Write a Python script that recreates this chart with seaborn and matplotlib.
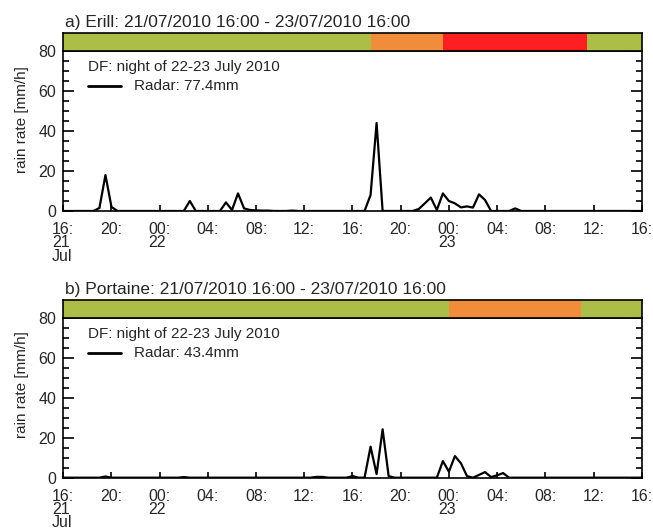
import numpy as np
import pandas as pd
import matplotlib
matplotlib.use("Agg")
import matplotlib.pyplot as plt
import matplotlib.dates as mdates
from matplotlib.ticker import MultipleLocator
import seaborn as sns

# radar rain rate [mm/h], half-hourly from 21/07/2010 16:00 to 23/07/2010 16:00
erill = [
    0, 0, 0, 0, 0, 0, 1.5, 18,
    2, 0, 0, 0, 0, 0, 0, 0,
    0, 0, 0, 0, 0, 5, 0, 0,
    0, 0, 0, 4.3, 0.5, 8.8, 1.3, 0.5,
    0.3, 0.2, 0.2, 0, 0, 0, 0.2, 0,
    0, 0, 0, 0, 0, 0, 0, 0,
    0, 0, 0, 8, 44, 0, 0, 0,
    0, 0, 0, 1, 3.8, 6.7, 0.5, 8.8,
    5, 3.8, 1.8, 2.3, 1.7, 8.3, 5.5, 0,
    0, 0, 0, 1.3, 0, 0, 0, 0,
    0, 0, 0, 0, 0, 0, 0, 0,
    0, 0, 0, 0, 0, 0, 0, 0,
    0,
]
portaine = [
    0, 0, 0, 0, 0, 0, 0, 0.6,
    0, 0, 0, 0, 0, 0, 0, 0,
    0, 0, 0, 0, 0.3, 0, 0, 0,
    0, 0, 0, 0, 0, 0, 0, 0,
    0, 0, 0, 0, 0, 0, 0, 0,
    0, 0, 0.4, 0.4, 0, 0, 0, 0,
    0.8, 0, 0, 15.5, 1.8, 24.2, 0.8, 0,
    0, 0, 0, 0, 0, 0, 0, 8.3,
    3, 10.8, 7.2, 0.8, 0, 1.4, 2.8, 0.3,
    1.2, 2.3, 0, 0, 0, 0, 0, 0,
    0, 0, 0, 0, 0, 0, 0, 0,
    0, 0, 0, 0, 0, 0, 0, 0,
    0,
]

t_start = "2010-07-21 16:00"
t_end = "2010-07-23 16:00"
times = pd.date_range(t_start, t_end, freq="30min")

tick_labels = ["16:\n21\nJul", "20:", "00:\n22", "04:", "08:", "12:", "16:",
               "20:", "00:\n23", "04:", "08:", "12:", "16:"]

# warning level bars (start, end, colour)
erill_warn_start = ["2010-07-21 16:00", "2010-07-22 17:30", "2010-07-22 23:30", "2010-07-23 11:30"]
erill_warn_end = ["2010-07-22 17:30", "2010-07-22 23:30", "2010-07-23 11:30", "2010-07-23 16:00"]
erill_warn_col = ["#acbe48", "#f18d3a", "#fe1f21", "#acbe48"]
portaine_warn_start = ["2010-07-21 16:00", "2010-07-23 00:00", "2010-07-23 11:00"]
portaine_warn_end = ["2010-07-23 00:00", "2010-07-23 11:00", "2010-07-23 16:00"]
portaine_warn_col = ["#acbe48", "#f18d3a", "#acbe48"]

panels = [
    ("a) Erill: 21/07/2010 16:00 - 23/07/2010 16:00", erill, "Radar: 77.4mm",
     erill_warn_start, erill_warn_end, erill_warn_col),
    ("b) Portaine: 21/07/2010 16:00 - 23/07/2010 16:00", portaine, "Radar: 43.4mm",
     portaine_warn_start, portaine_warn_end, portaine_warn_col),
]

sns.set_style("ticks")
plt.rcParams['font.family'] = ['Liberation Sans', 'DejaVu Sans']

fig = plt.figure(figsize=(6.53, 5.30), dpi=100)

left, width, h_main, h_bar = 0.0969, 0.8858, 0.3019, 0.0334
bottoms = [0.6019, 0.0987]
ylab_y = [0.7736, 0.2736]
title_y = [0.957, 0.453]

xmin = mdates.date2num(pd.Timestamp(t_start))
xmax = mdates.date2num(pd.Timestamp(t_end))

for i, (title, vals, radar_lbl, ws, we, wc) in enumerate(panels):
    ax = fig.add_axes([left, bottoms[i], width, h_main])
    axb = fig.add_axes([left, bottoms[i] + h_main, width, h_bar])

    sns.lineplot(x=times, y=vals, ax=ax, color="black", linewidth=1.6)
    ax.set_xlim(xmin, xmax)
    ax.set_ylim(0, 80)
    ax.set_xlabel("")
    ax.set_ylabel("")

    ax.yaxis.set_major_locator(MultipleLocator(20))
    ax.yaxis.set_minor_locator(MultipleLocator(5))
    ax.tick_params(axis="y", which="major", direction="in", length=8, width=1.2,
                   color="black", left=True, right=True, labelsize=11.5, pad=5)
    ax.tick_params(axis="y", which="minor", direction="in", length=4.5, width=1.2,
                   color="black", left=True, right=True)
    ticks = pd.date_range(t_start, t_end, freq="4h")
    ax.set_xticks(mdates.date2num(ticks))
    ax.set_xticklabels(tick_labels, multialignment="left", linespacing=0.85)
    ax.tick_params(axis="x", direction="in", length=4, width=1.2, color="black",
                   bottom=True, top=False, labelsize=11.5, pad=8)
    for s in ax.spines.values():
        s.set_linewidth(1.2)
        s.set_color("black")

    # legend drawn by hand
    ax.text(0.043, 0.90, "DF: night of 22-23 July 2010", transform=ax.transAxes,
            fontsize=11, va="center", ha="left")
    ax.plot([0.042, 0.100], [0.78, 0.78], transform=ax.transAxes, color="black",
            linewidth=2)
    ax.text(0.122, 0.78, radar_lbl, transform=ax.transAxes, fontsize=11,
            va="center", ha="left")

    # warning bar
    for s0, s1, c in zip(ws, we, wc):
        axb.axvspan(mdates.date2num(pd.Timestamp(s0)), mdates.date2num(pd.Timestamp(s1)),
                    color=c, linewidth=0)
    axb.set_xlim(xmin, xmax)
    axb.set_ylim(0, 1)
    axb.set_xticks([])
    axb.set_yticks([])
    for s in axb.spines.values():
        s.set_linewidth(1.2)
        s.set_color("black")

    fig.text(0.0995, title_y[i], title, fontsize=12.5, ha="left", va="center")
    fig.text(0.033, ylab_y[i], "rain rate [mm/h]", fontsize=11, rotation=90,
             ha="center", va="center")

fig.savefig("out.png", dpi=100)
